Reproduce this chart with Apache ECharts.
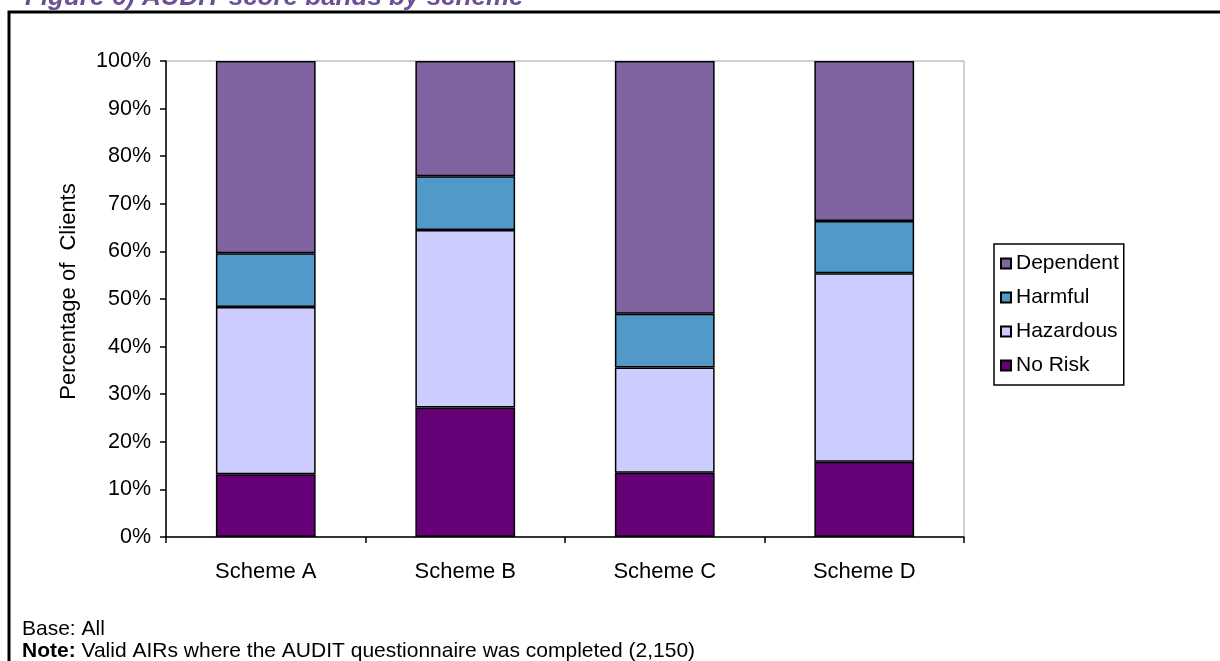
<!DOCTYPE html>
<html>
<head>
<meta charset="utf-8">
<script src="https://cdn.jsdelivr.net/npm/echarts@6/dist/echarts.min.js"></script>
<style>
  html, body { margin: 0; padding: 0; background: #ffffff; }
  #chart { width: 1220px; height: 661px; }
</style>
</head>
<body>
<div id="chart"></div>
<script>
// AUDIT score bands per scheme, percentage of clients
const categories = ['Scheme A', 'Scheme B', 'Scheme C', 'Scheme D'];
const noRisk    = [13.2, 27.2, 13.5, 15.8];
const hazardous = [35.1, 37.3, 22.1, 39.6];
const harmful   = [11.3, 11.3, 11.3, 11.0];
const dependent = [40.4, 24.2, 53.1, 33.6];
const yTicks = [0, 10, 20, 30, 40, 50, 60, 70, 80, 90, 100];

const font = 'Liberation Sans, Arial, sans-serif';

const chart = echarts.init(document.getElementById('chart'), null, { renderer: 'canvas' });

function band(name, data, color) {
  return {
    name: name,
    type: 'bar',
    stack: 'total',
    data: data,
    barWidth: '50%',
    itemStyle: { color: color, borderColor: '#000000', borderWidth: 1.5 },
    emphasis: { disabled: true }
  };
}

chart.setOption({
  animation: false,
  backgroundColor: '#ffffff',
  title: {
    text: 'Figure 6) AUDIT score bands by scheme',
    left: 25,
    top: -15,
    padding: 0,
    textStyle: { fontFamily: font, fontSize: 26, fontWeight: 'bold', fontStyle: 'italic', color: '#6a5196' }
  },
  grid: {
    left: 166, top: 61, right: 256, bottom: 124,
    show: true, borderColor: '#a0a0a0', borderWidth: 1, backgroundColor: 'transparent'
  },
  legend: {
    orient: 'vertical',
    left: 994,
    top: 244,
    itemWidth: 10,
    itemHeight: 10,
    itemGap: 13,
    padding: [9, 5, 9, 6],
    borderColor: '#000000',
    borderWidth: 1.5,
    icon: 'rect',
    textStyle: { fontFamily: font, fontSize: 21, color: '#000000' },
    data: ['Dependent', 'Harmful', 'Hazardous', 'No Risk']
  },
  xAxis: {
    type: 'category',
    data: categories,
    boundaryGap: true,
    axisLine: { lineStyle: { color: '#000000', width: 1.5 } },
    axisTick: { show: true, alignWithLabel: false, length: 6, lineStyle: { color: '#000000', width: 1.5 } },
    axisLabel: { fontFamily: font, fontSize: 22, color: '#000000', margin: 24 }
  },
  yAxis: {
    type: 'value',
    min: 0,
    max: 100,
    interval: 10,
    name: 'Percentage of  Clients',
    nameLocation: 'middle',
    nameGap: 86,
    nameTextStyle: { fontFamily: font, fontSize: 22, color: '#000000', padding: [0, 0, 0, 15] },
    axisLine: { show: true, lineStyle: { color: '#000000', width: 1.5 } },
    axisTick: { show: true, length: 6, lineStyle: { color: '#000000', width: 1.5 } },
    splitLine: { show: false },
    axisLabel: {
      fontFamily: font, fontSize: 21.5, color: '#000000', margin: 15,
      formatter: function (v) { return yTicks.indexOf(v) >= 0 ? v + '%' : ''; }
    }
  },
  series: [
    band('No Risk', noRisk, '#660077'),
    band('Hazardous', hazardous, '#ccccff'),
    band('Harmful', harmful, '#5099c9'),
    band('Dependent', dependent, '#8064a1')
  ],
  graphic: [
    {
      type: 'polyline',
      shape: { points: [[9, 700], [9, 12], [1300, 12]] },
      style: { stroke: '#000000', lineWidth: 3, fill: null },
      silent: true
    },
    {
      type: 'text',
      left: 22, top: 619,
      style: { text: 'Base: All', font: '21px ' + font, fill: '#000000' }
    },
    {
      type: 'text',
      left: 22, top: 641,
      style: {
        text: '{b|Note:} Valid AIRs where the AUDIT questionnaire was completed (2,150)',
        font: '21px ' + font,
        fill: '#000000',
        rich: { b: { fontWeight: 'bold', fontFamily: font, fontSize: 21 } }
      }
    }
  ]
});
</script>
</body>
</html>
